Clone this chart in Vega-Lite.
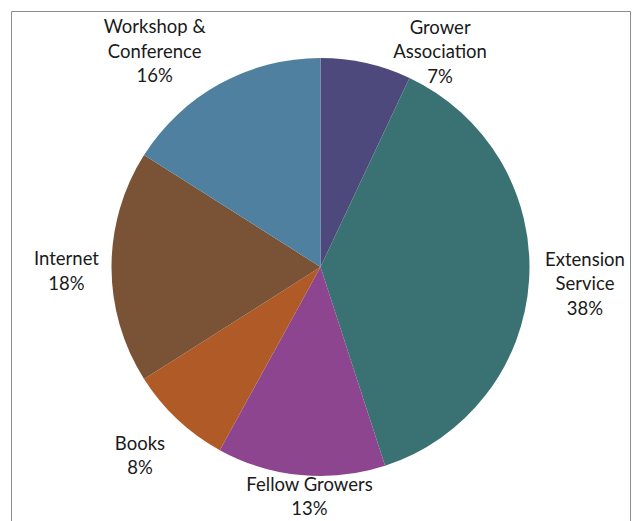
{
  "$schema": "https://vega.github.io/schema/vega-lite/v6.json",
  "autosize": {"type": "none"},
  "width": 619,
  "height": 512,
  "padding": {"left": 11, "top": 11, "right": 3, "bottom": 0},
  "background": "white",
  "view": {"stroke": "#8c8c8c", "strokeWidth": 1, "fill": "white"},
  "data": {"values": [
    {"rank": 1, "category": "Grower Association", "value": 7, "label": "Grower\nAssociation\n7%"},
    {"rank": 2, "category": "Extension Service", "value": 38, "label": "Extension\nService\n38%"},
    {"rank": 3, "category": "Fellow Growers", "value": 13, "label": "Fellow Growers\n13%"},
    {"rank": 4, "category": "Books", "value": 8, "label": "Books\n8%"},
    {"rank": 5, "category": "Internet", "value": 18, "label": "Internet\n18%"},
    {"rank": 6, "category": "Workshop & Conference", "value": 16, "label": "Workshop &\nConference\n16%"}
  ]},
  "encoding": {
    "theta": {"field": "value", "type": "quantitative", "stack": true},
    "order": {"field": "rank", "type": "quantitative", "sort": "ascending"},
    "color": {
      "field": "category", "type": "nominal",
      "scale": {
        "domain": ["Grower Association", "Extension Service", "Fellow Growers", "Books", "Internet", "Workshop & Conference"],
        "range": ["#4d497d", "#3a7273", "#8d4590", "#b05b27", "#7a5236", "#4f809f"]
      },
      "legend": null
    }
  },
  "layer": [
    {"mark": {"type": "arc", "radius": 209}},
    {"mark": {"type": "text", "radius": 255, "dx": 64, "dy": 9.5, "font": "Lato", "fontSize": 18.5, "lineBreak": "\n", "lineHeight": 24.5, "baseline": "middle", "align": "center"},
     "encoding": {"text": {"condition": {"test": "datum.category === 'Grower Association'", "field": "label"}, "value": ""}, "color": {"value": "#1a1a1a"}}},
    {"mark": {"type": "text", "radius": 255, "dx": 10, "dy": -23.5, "font": "Lato", "fontSize": 18.5, "lineBreak": "\n", "lineHeight": 24.5, "baseline": "middle", "align": "center"},
     "encoding": {"text": {"condition": {"test": "datum.category === 'Extension Service'", "field": "label"}, "value": ""}, "color": {"value": "#1a1a1a"}}},
    {"mark": {"type": "text", "radius": 255, "dx": 13, "dy": -36, "font": "Lato", "fontSize": 18.5, "lineBreak": "\n", "lineHeight": 24.5, "baseline": "middle", "align": "center"},
     "encoding": {"text": {"condition": {"test": "datum.category === 'Fellow Growers'", "field": "label"}, "value": ""}, "color": {"value": "#1a1a1a"}}},
    {"mark": {"type": "text", "radius": 255, "dx": -6, "dy": -9, "font": "Lato", "fontSize": 18.5, "lineBreak": "\n", "lineHeight": 24.5, "baseline": "middle", "align": "center"},
     "encoding": {"text": {"condition": {"test": "datum.category === 'Books'", "field": "label"}, "value": ""}, "color": {"value": "#1a1a1a"}}},
    {"mark": {"type": "text", "radius": 255, "dx": 1, "dy": -8, "font": "Lato", "fontSize": 18.5, "lineBreak": "\n", "lineHeight": 24.5, "baseline": "middle", "align": "center"},
     "encoding": {"text": {"condition": {"test": "datum.category === 'Internet'", "field": "label"}, "value": ""}, "color": {"value": "#1a1a1a"}}},
    {"mark": {"type": "text", "radius": 255, "dx": -43, "dy": -16.5, "font": "Lato", "fontSize": 18.5, "lineBreak": "\n", "lineHeight": 24.5, "baseline": "middle", "align": "center"},
     "encoding": {"text": {"condition": {"test": "datum.category === 'Workshop & Conference'", "field": "label"}, "value": ""}, "color": {"value": "#1a1a1a"}}}
  ]
}
